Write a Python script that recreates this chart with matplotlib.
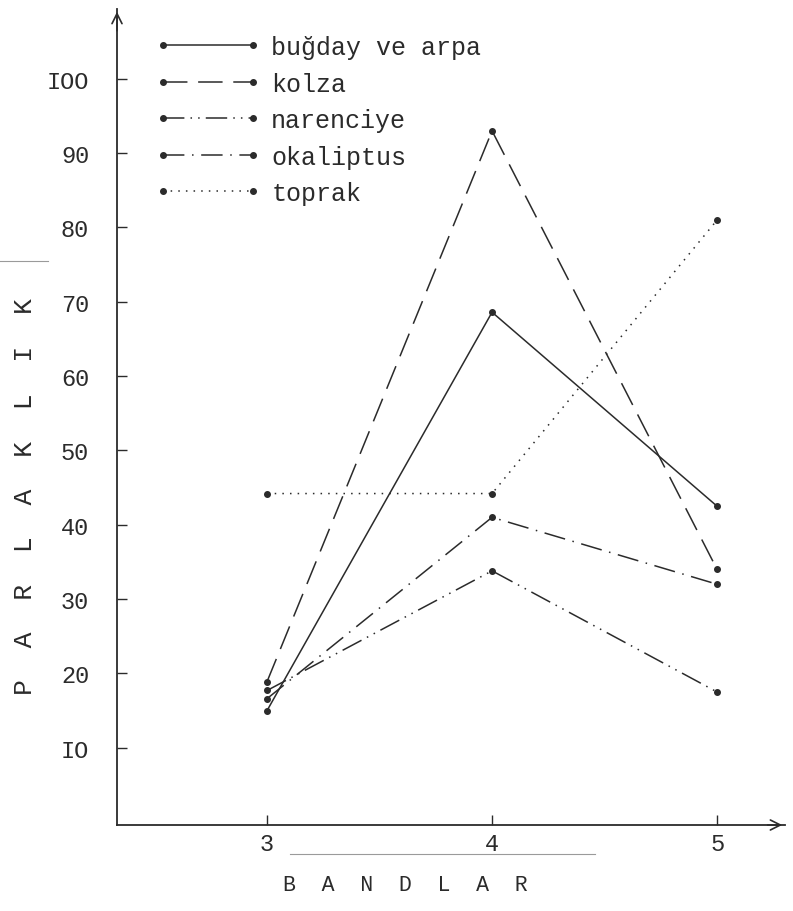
import matplotlib.pyplot as plt

bands = [3, 4, 5]
band_ticks = ["3", "4", "5"]
y_ticks = [10, 20, 30, 40, 50, 60, 70, 80, 90, 100]
y_tick_labels = ["IO", "20", "30", "40", "50", "60", "70", "80", "90", "IOO"]

labels = ["buğday ve arpa", "kolza", "narenciye", "okaliptus", "toprak"]

# values
bugday = [15.0, 68.6, 42.5]
kolza = [18.9, 93.0, 34.0]
narenciye = [17.7, 33.8, 17.5]
okaliptus = [16.6, 41.0, 32.0]
toprak = [44.2, 44.2, 81.0]

series = [bugday, kolza, narenciye, okaliptus, toprak]
styles = ["-", (0, (16, 7)), (0, (14, 4, 1, 4, 1, 4)), (0, (14, 5, 1, 5)), (0, (1, 4))]

ink = "#2b2b2b"
font = "Liberation Mono"
plt.rcParams["font.family"] = [font, "DejaVu Sans"]

fig = plt.figure(figsize=(7.93, 9.12), dpi=100)
ax = fig.add_axes([117 / 793, 86 / 912, 668 / 793, 816 / 912])

for index, y in enumerate(series):
    ax.plot(bands, y, linestyle=styles[index], color=ink, linewidth=1.1,
            marker="o", markersize=4, label=labels[index])

ax.set_xlim(2.333, 5.302)
ax.set_ylim(-0.4, 109.4)
ax.spines["top"].set_visible(False)
ax.spines["right"].set_visible(False)
for side in ["left", "bottom"]:
    ax.spines[side].set_color(ink)
    ax.spines[side].set_linewidth(1.3)

ax.set_xticks(bands, band_ticks, fontsize=17, color=ink)
ax.set_yticks(y_ticks, y_tick_labels, fontsize=17, color=ink)
ax.tick_params(axis="both", direction="in", length=7, width=1, color=ink)
ax.tick_params(axis="x", pad=5)
ax.tick_params(axis="y", pad=20)

# arrow heads at axis ends
ax.annotate("", xy=(1.0, 0), xytext=(0.97, 0), xycoords="axes fraction",
            arrowprops=dict(arrowstyle="->", color=ink, lw=1.2, mutation_scale=18))
ax.annotate("", xy=(0, 1.0), xytext=(0, 0.97), xycoords="axes fraction",
            arrowprops=dict(arrowstyle="->", color=ink, lw=1.2, mutation_scale=18))

ax.legend(loc="upper left", bbox_to_anchor=(155 / 793, 1 - 36 / 912),
          bbox_transform=fig.transFigure, frameon=False, fontsize=18,
          handlelength=4.2, handletextpad=0.45, labelspacing=0.5,
          borderpad=0, borderaxespad=0, numpoints=2, labelcolor=ink)

fig.text(25 / 793, 1 - 497 / 912, "P  A  R  L  A  K  L  I  K", rotation=90,
         ha="center", va="center", fontsize=19, color=ink)
fig.text(405 / 793, 1 - 886 / 912, "B  A  N  D  L  A  R", ha="center", va="center",
         fontsize=15.5, color=ink)

# faint rules left on the scanned page
fig.add_artist(plt.Line2D([290 / 793, 595 / 793], [1 - 855 / 912, 1 - 855 / 912],
                          color="#9a9a9a", linewidth=0.8))
fig.add_artist(plt.Line2D([0, 48 / 793], [1 - 262 / 912, 1 - 262 / 912],
                          color="#9a9a9a", linewidth=0.8))

fig.savefig("out.png", dpi=100, facecolor="white")
